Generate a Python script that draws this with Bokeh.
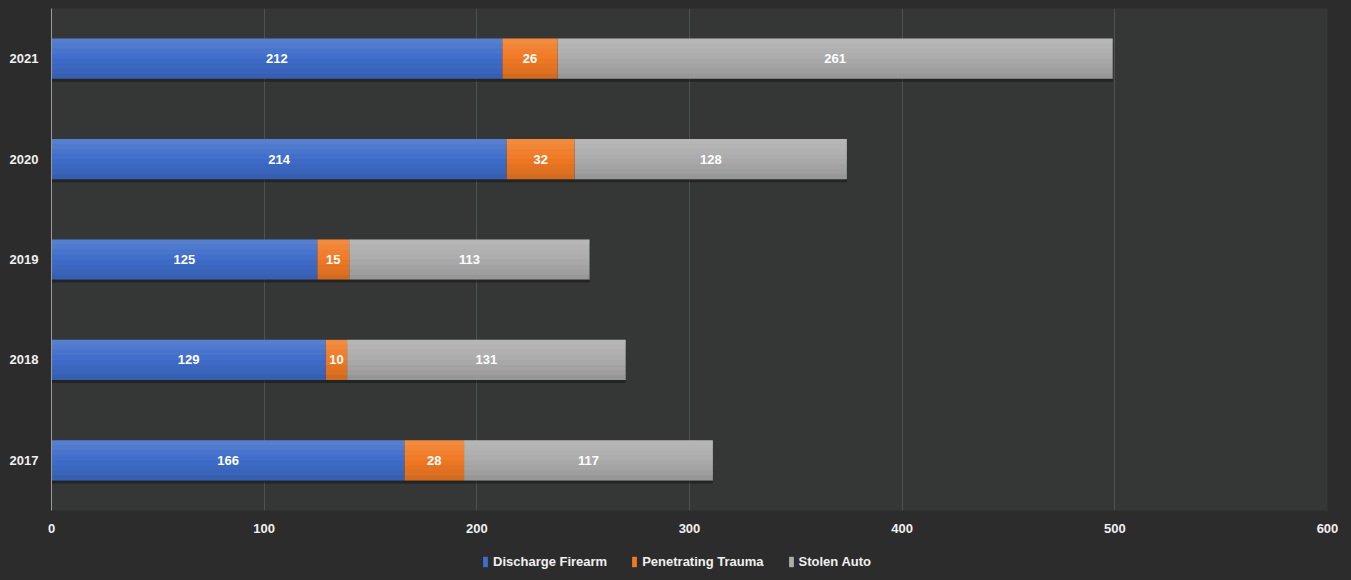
from bokeh.plotting import figure
from bokeh.layouts import column
from bokeh.models import ColumnDataSource, Range1d, FactorRange, Legend, LegendItem, FixedTicker
from bokeh.core.properties import value
from bokeh.transform import dodge
from bokeh.embed import file_html
from bokeh.resources import INLINE

years = ["2017", "2018", "2019", "2020", "2021"]
discharge_firearm = [166, 129, 125, 214, 212]
penetrating_trauma = [28, 10, 15, 32, 26]
stolen_auto = [117, 131, 113, 128, 261]
series_names = ["Discharge Firearm", "Penetrating Trauma", "Stolen Auto"]
x_ticks = [0, 100, 200, 300, 400, 500, 600]

colors = ["#3f6dca", "#f07a24", "#acacac"]
FONT = "Liberation Sans"
BORDER = "#2c2c2c"

p = figure(width=1351, height=545, y_range=FactorRange(*years, range_padding=0),
           x_range=Range1d(0, 600), output_backend="svg", toolbar_location=None,
           min_border_left=51, min_border_right=24, min_border_top=8, min_border_bottom=35)
p.border_fill_color = BORDER
p.background_fill_color = "#353737"
p.outline_line_color = None

series = [discharge_firearm, penetrating_trauma, stolen_auto]
totals = [a + b + c for a, b, c in zip(*series)]

# soft shadow beneath bars
shadow_src = ColumnDataSource(dict(y=years, right=totals))
p.hbar(y=dodge("y", -0.03, range=p.y_range), left=0, right="right", height=0.4,
       source=shadow_src, fill_color="#111111", fill_alpha=0.5, line_color=None)

left = [0] * len(years)
renderers = []
label_srcs = []
all_y, all_l, all_r = [], [], []
for name, vals, col in zip(series_names, series, colors):
    right = [l + v for l, v in zip(left, vals)]
    mid = [(l + r) / 2 for l, r in zip(left, right)]
    src = ColumnDataSource(dict(y=years, left=left, right=right, mid=mid,
                                lab=[str(v) for v in vals]))
    r = p.hbar(y="y", left="left", right="right", height=0.4, source=src,
               fill_color=col, line_color=None)
    renderers.append(r)
    label_srcs.append(src)
    all_y += years
    all_l += left
    all_r += right
    left = right

# vertical shading strips for a gradient look
strip_src = ColumnDataSource(dict(y=all_y, left=all_l, right=all_r))
shades = [("white", 0.13), ("white", 0.09), ("white", 0.05), ("white", 0.02),
          ("black", 0.02), ("black", 0.05), ("black", 0.08), ("black", 0.12)]
for k, (c, a) in enumerate(shades):
    off = 0.2 - 0.025 - 0.05 * k
    p.hbar(y=dodge("y", off, range=p.y_range), left="left", right="right", height=0.05,
           source=strip_src, fill_color=c, fill_alpha=a, line_color=None)

for src in label_srcs:
    p.text(x="mid", y="y", text="lab", source=src, text_color="white",
           text_font=value(FONT), text_font_style="bold", text_font_size="13px",
           text_align="center", text_baseline="middle")

p.xgrid.ticker = FixedTicker(ticks=x_ticks)
p.xgrid.grid_line_color = "#4e5151"
p.ygrid.grid_line_color = None

p.xaxis.ticker = FixedTicker(ticks=x_ticks)
p.xaxis.axis_line_color = None
p.xaxis.major_tick_line_color = None
p.xaxis.minor_tick_line_color = None
p.xaxis.major_tick_out = 0
p.xaxis.major_tick_in = 0
p.xaxis.major_label_standoff = 13
p.xaxis.major_label_text_color = "#f0f0f0"
p.xaxis.major_label_text_font = FONT
p.xaxis.major_label_text_font_style = "bold"
p.xaxis.major_label_text_font_size = "13px"

p.yaxis.axis_line_color = "#9a9a9a"
p.yaxis.major_tick_line_color = None
p.yaxis.minor_tick_line_color = None
p.yaxis.major_tick_out = 0
p.yaxis.major_tick_in = 0
p.yaxis.major_label_standoff = 13
p.yaxis.major_label_text_color = "#f0f0f0"
p.yaxis.major_label_text_font = FONT
p.yaxis.major_label_text_font_style = "bold"
p.yaxis.major_label_text_font_size = "13px"

# legend strip below the chart
lf = figure(width=1351, height=35, x_range=Range1d(0, 1), y_range=Range1d(0, 1),
            output_backend="svg", toolbar_location=None, x_axis_type=None, y_axis_type=None,
            min_border=0)
lf.border_fill_color = BORDER
lf.background_fill_color = BORDER
lf.outline_line_color = None
lf.grid.grid_line_color = None
leg_renderers = []
for col in colors:
    # off-screen placeholder bar, used only for its legend swatch
    leg_renderers.append(lf.hbar(y=[-5], left=[0], right=[0.1], height=0.4,
                                 fill_color=col, line_color=None))
legend = Legend(items=[LegendItem(label=n, renderers=[r]) for n, r in zip(series_names, leg_renderers)],
                orientation="horizontal", location=(431, 11),
                glyph_width=6, glyph_height=13, label_text_font=FONT,
                label_text_font_style="bold", label_text_font_size="13px",
                label_text_color="#f0f0f0", spacing=24, label_standoff=5,
                background_fill_alpha=0, border_line_color=None, margin=0, padding=4)
lf.add_layout(legend, "center")

layout = column(p, lf, spacing=0)
html = file_html(layout, INLINE)
html = html.replace("<head>", "<head><style>html,body{background:#2c2c2c;margin:0;}</style>", 1)
open("out.html", "w").write(html)
